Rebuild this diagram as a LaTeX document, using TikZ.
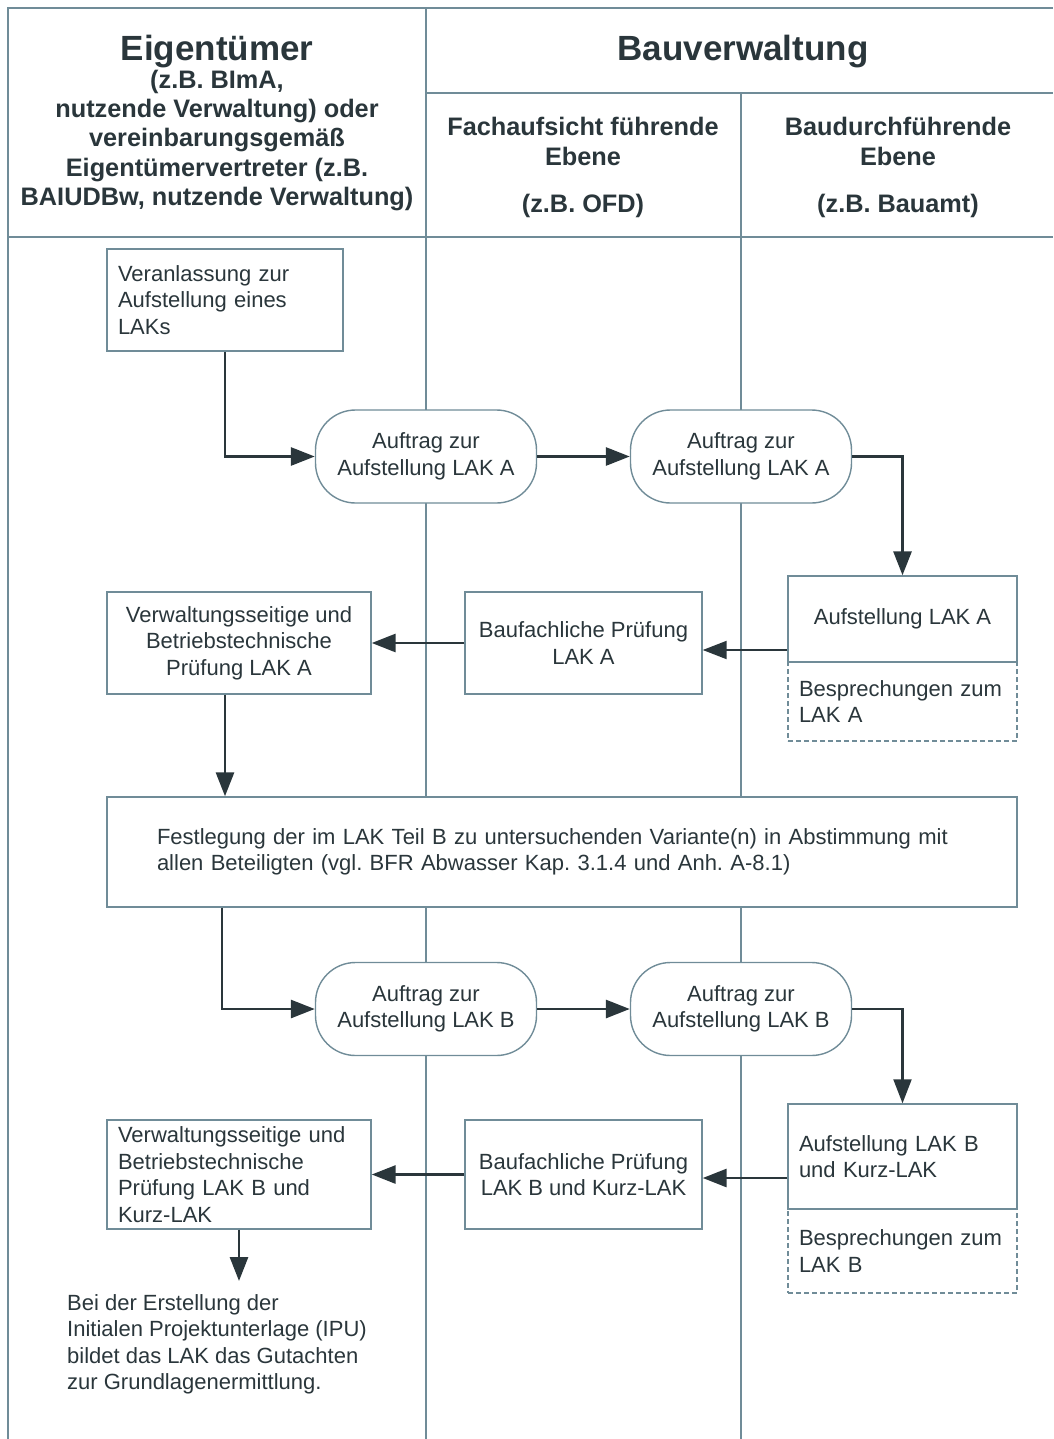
\documentclass[tikz,border=0pt]{standalone}
\usepackage{fontspec}
\setmainfont{Liberation Sans}
\usetikzlibrary{arrows.meta,calc}
\definecolor{lanec}{RGB}{112,140,152}
\definecolor{inkc}{RGB}{42,54,59}
\newcommand\bodyfont{\fontsize{22}{26.5}\selectfont}
\newcommand\titlefont{\fontsize{35}{40}\selectfont\bfseries}
\newcommand\subfont{\fontsize{25.3}{29.2}\selectfont\bfseries}
\newcommand\colfont{\fontsize{25.3}{30}\selectfont\bfseries}
\frenchspacing

\begin{document}
\begin{tikzpicture}[x=1pt,y=-1pt,
  lane/.style={draw=lanec, line width=2.6pt},
  box/.style={draw=lanec, line width=1.4pt, fill=white, inner sep=0pt, font=\bodyfont, text=inkc},
  term/.style={box, rounded corners=40pt, minimum width=221pt, minimum height=93pt, align=center},
  note/.style={box, dash pattern=on 5pt off 3pt},
  arr/.style={draw=inkc, line width=2.9pt, -{Triangle[length=24pt,width=18pt]}},
  arrthin/.style={arr, line width=2.1pt},
  head/.style={text=inkc, align=center, inner sep=0pt}]

\useasboundingbox (0,0) rectangle (1053,1439);

% swimlane frame
\draw[lane] (8,1439) -- (8,8) -- (1053,8);
\draw[lane] (426,8) -- (426,1439);
\draw[lane] (741,93) -- (741,1439);
\draw[lane] (426,93) -- (1053,93);
\draw[lane] (8,237) -- (1053,237);

% lane headers
\node[head, font=\titlefont] (ownt) at (217,52) {Eigentümer};
\node[head, font=\subfont] (owns) at (217,140.5) {(z.B. BImA,\\nutzende Verwaltung) oder\\vereinbarungsgemäß\\Eigentümervertreter (z.B.\\BAIUDBw, nutzende Verwaltung)};
\node[head, font=\titlefont] (bvt) at (743,52) {Bauverwaltung};
\node[head, font=\colfont, text depth=0pt] (fah) at (583,164.5) {Fachaufsicht führende\\Ebene\\[17pt](z.B. OFD)};
\node[head, font=\colfont, text depth=0pt] (bdh) at (898,164.5) {Baudurchführende\\Ebene\\[17pt](z.B. Bauamt)};

% process steps
\node[box, minimum width=236pt, minimum height=102pt, text width=214pt, align=left] (veran) at (225,300) {Veranlassung zur\\Aufstellung eines\\LAKs};
\node[term] (a1) at (426,456.5) {Auftrag zur\\Aufstellung LAK A};
\node[term] (a2) at (741,456.5) {Auftrag zur\\Aufstellung LAK A};
\node[note, minimum width=229pt, minimum height=79pt, text width=207pt, align=left] (bespa) at (902.5,701.5) {Besprechungen zum\\LAK A};
\node[box, minimum width=229pt, minimum height=86pt, align=center] (aufa) at (902.5,619) {Aufstellung LAK A};
\node[box, minimum width=237pt, minimum height=102pt, align=center] (baua) at (583.5,643) {Baufachliche Prüfung\\LAK A};
\node[box, minimum width=264pt, minimum height=102pt, align=center] (vera) at (239,643) {Verwaltungsseitige und\\Betriebstechnische\\Prüfung LAK A};
\node[box, minimum width=910pt, minimum height=110pt, text width=810pt, align=left] (fest) at (562,852) {Festlegung der im LAK Teil B zu untersuchenden Variante(n) in Abstimmung mit\\allen Beteiligten (vgl. BFR Abwasser Kap. 3.1.4 und Anh. A-8.1)};
\node[term] (b1) at (426,1009) {Auftrag zur\\Aufstellung LAK B};
\node[term] (b2) at (741,1009) {Auftrag zur\\Aufstellung LAK B};
\node[note, minimum width=229pt, minimum height=84pt, text width=207pt, align=left] (bespb) at (902.5,1251) {Besprechungen zum\\LAK B};
\node[box, minimum width=229pt, minimum height=105pt, text width=207pt, align=left] (aufb) at (902.5,1156.5) {Aufstellung LAK B\\und Kurz-LAK};
\node[box, minimum width=237pt, minimum height=109pt, align=center] (baub) at (583.5,1174.5) {Baufachliche Prüfung\\LAK B und Kurz-LAK};
\node[box, minimum width=264pt, minimum height=109pt, text width=242pt, align=left] (verb) at (239,1174.5) {Verwaltungsseitige und\\Betriebstechnische\\Prüfung LAK B und\\Kurz-LAK};
\node[text=inkc, font=\bodyfont, align=left, anchor=north west, inner sep=0pt] (ipu) at (67,1294) {Bei der Erstellung der\\Initialen Projektunterlage (IPU)\\bildet das LAK das Gutachten\\zur Grundlagenermittlung.};

% connectors
\coordinate (vx) at (225,0);
\coordinate (fx) at (222,0);
\coordinate (endp) at (239,1281);
\draw[arr] (veran.south) |- (a1.west);
\draw[arr] (a1.east) -- (a2.west);
\draw[arr] (a2.east) -| (aufa.north);
\draw[arrthin] ([yshift=-31pt]aufa.west) -- ([yshift=-7pt]baua.east);
\draw[arr] (baua.west) -- (vera.east);
\draw[arr] (vera.south -| vx) -- (fest.north -| vx);
\draw[arr] (fest.south -| fx) |- (b1.west);
\draw[arr] (b1.east) -- (b2.west);
\draw[arrthin] (b2.east) -| (aufb.north);
\draw[arr] ([yshift=-21.5pt]aufb.west) -- ([yshift=-3.5pt]baub.east);
\draw[arr] (baub.west) -- (verb.east);
\draw[arr] (verb.south) -- (endp);
\end{tikzpicture}
\end{document}
